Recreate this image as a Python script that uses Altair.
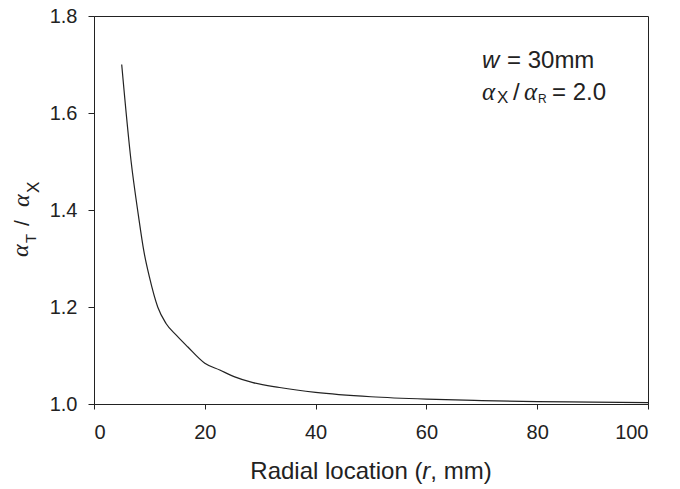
import altair as alt
import pandas as pd

# Data
r_mm = [5, 6.7, 8.0, 9.0, 10.0, 11.5, 13.0, 14.85, 16.9, 20.0, 22.7, 25.4, 28.7, 33.5,
        40, 50, 60, 70, 80, 90, 100]
ratio = [1.700, 1.500, 1.390, 1.315, 1.262, 1.200, 1.166, 1.142, 1.118, 1.084, 1.070,
         1.056, 1.044, 1.034, 1.024, 1.015, 1.010, 1.007, 1.005, 1.004, 1.003]
x_ticks = [0, 20, 40, 60, 80, 100]
y_ticks = [1.0, 1.2, 1.4, 1.6, 1.8]

df = pd.DataFrame({"r": r_mm, "ratio": ratio})

W, H = 554, 388
INK = "#222222"
SANS = "Liberation Sans"
SERIF = "Liberation Serif"

line = alt.Chart(df).mark_line(color=INK, strokeWidth=1.2, interpolate="monotone").encode(
    x=alt.X("r:Q", scale=alt.Scale(domain=[0, 100], nice=False),
            axis=alt.Axis(values=x_ticks, title=None, format="d")),
    y=alt.Y("ratio:Q", scale=alt.Scale(domain=[1.0, 1.8], nice=False, zero=False),
            axis=alt.Axis(values=y_ticks, title=None, format=".1f")),
)


def txt(s, x, y, size, font=SANS, italic=False, angle=0):
    kw = dict(text=s, fontSize=size, font=font, color=INK, align="left",
              baseline="alphabetic")
    if italic:
        kw["fontStyle"] = "italic"
    if angle:
        kw["angle"] = angle
    return alt.Chart(df.head(1)).mark_text(**kw).encode(x=alt.value(x), y=alt.value(y))


# x-axis title: "Radial location (r, mm)" with italic r
fs_t = 24
start = W / 2 - 10.057 * fs_t / 2
w1 = 7.169 * fs_t
w2 = 0.333 * fs_t
xt = [
    txt("Radial location (", start, 463, fs_t),
    txt("r", start + w1, 463, fs_t, italic=True),
    txt(", mm)", start + w1 + w2, 463, fs_t),
]

# y-axis title: alpha_T / alpha_X (rotated)
yt = [
    txt("α", -66, 241, 24, font=SERIF, italic=True, angle=270),
    txt("T", -58, 227, 15, angle=270),
    txt("/", -65, 210, 21, angle=270),
    txt("α", -65, 191, 24, font=SERIF, italic=True, angle=270),
    txt("X", -55, 177, 17, angle=270),
]

# annotation
ann = [
    txt("w", 388, 52, 24, italic=True),
    txt("= 30mm", 413, 52, 24),
    txt("α", 388, 84, 25, font=SERIF, italic=True),
    txt("X", 403, 87, 17),
    txt("/", 419, 84, 24),
    txt("α", 430, 84, 25, font=SERIF, italic=True),
    txt("R", 444, 87, 12),
    txt("= 2.0", 458, 84, 24),
]

chart = alt.layer(line, *xt, *yt, *ann).properties(
    width=W, height=H,
    autosize=alt.AutoSizeParams(type="none"),
    padding={"left": 86, "top": 8, "right": 22, "bottom": 80},
).configure_view(
    stroke=INK, strokeWidth=1
).configure_axis(
    domainColor=INK, tickColor=INK, labelColor=INK, grid=False,
    labelFont=SANS, labelFontSize=20, domainWidth=1, tickWidth=1,
).configure_axisX(
    tickSize=5, labelPadding=13
).configure_axisY(
    tickSize=6, labelPadding=11
)

chart.save("out.html", embed_options={"renderer": "svg", "actions": False})
